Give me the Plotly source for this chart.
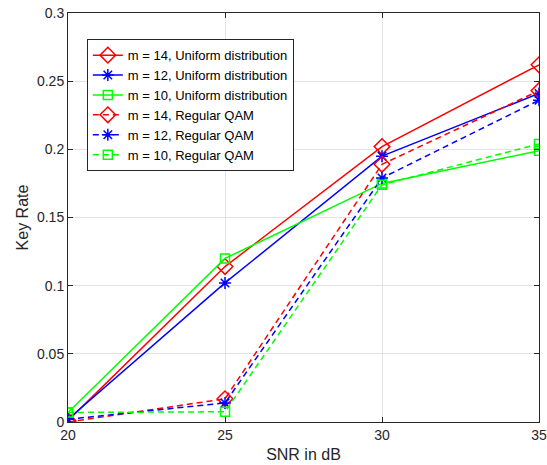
import plotly.graph_objects as go

snr = [20, 25, 30, 35]

uni_m14 = [0.001, 0.114, 0.202, 0.262]
uni_m12 = [0.002, 0.102, 0.195, 0.241]
uni_m10 = [0.007, 0.120, 0.175, 0.199]
qam_m14 = [0.000, 0.017, 0.189, 0.243]
qam_m12 = [0.002, 0.014, 0.179, 0.236]
qam_m10 = [0.007, 0.0075, 0.174, 0.204]

y_ticks = [0, 0.05, 0.1, 0.15, 0.2, 0.25, 0.3]
y_ticktext = ["0", "0.05", "0.1", "0.15", "0.2", "0.25", "0.3"]

series = [
    ("m = 14, Uniform distribution", uni_m14, "#ff0000", "diamond-open", 12, "solid"),
    ("m = 12, Uniform distribution", uni_m12, "#0000ff", "asterisk-open", 10, "solid"),
    ("m = 10, Uniform distribution", uni_m10, "#00ff00", "square-open", 9, "solid"),
    ("m = 14, Regular QAM", qam_m14, "#ff0000", "diamond-open", 12, "6px,4px"),
    ("m = 12, Regular QAM", qam_m12, "#0000ff", "asterisk-open", 10, "6px,4px"),
    ("m = 10, Regular QAM", qam_m10, "#00ff00", "square-open", 9, "6px,4px"),
]

fig = go.Figure()
for name, vals, color, sym, size, dash in series:
    fig.add_trace(go.Scatter(
        x=snr, y=vals, name=name, mode="lines+markers",
        line=dict(color=color, width=1.5, dash=dash),
        marker=dict(symbol=sym, size=size, color=color, line=dict(color=color, width=1.5)),
    ))

axis_common = dict(
    showline=True, linecolor="#262626", linewidth=1, mirror="ticks",
    ticks="inside", ticklen=5, tickcolor="#262626",
    showgrid=True, gridcolor="#e3e3e3", gridwidth=1, zeroline=False,
    tickfont=dict(size=14, color="#262626"), automargin=False,
)

fig.update_layout(
    width=547, height=465,
    margin=dict(l=68, r=8, t=13, b=43),
    plot_bgcolor="white", paper_bgcolor="white",
    font=dict(family="Liberation Sans, Arial", color="#262626"),
    xaxis=dict(range=[20, 35], tickvals=snr,
               title=dict(text="SNR in dB", font=dict(size=16), standoff=7), **axis_common),
    yaxis=dict(range=[0, 0.3], tickvals=y_ticks, ticktext=y_ticktext,
               title=dict(text="Key Rate", font=dict(size=16), standoff=4), **axis_common),
    legend=dict(x=0.04, y=0.936, xanchor="left", yanchor="top",
                bgcolor="white", bordercolor="#262626", borderwidth=1,
                font=dict(size=13, color="#000000"), tracegroupgap=0, itemwidth=30),
    showlegend=True,
)

# drop the default page margin so the figure sits at the window's corner
fig.write_html("out.html", config={"displayModeBar": False},
               post_script="document.body.style.margin='0';")
